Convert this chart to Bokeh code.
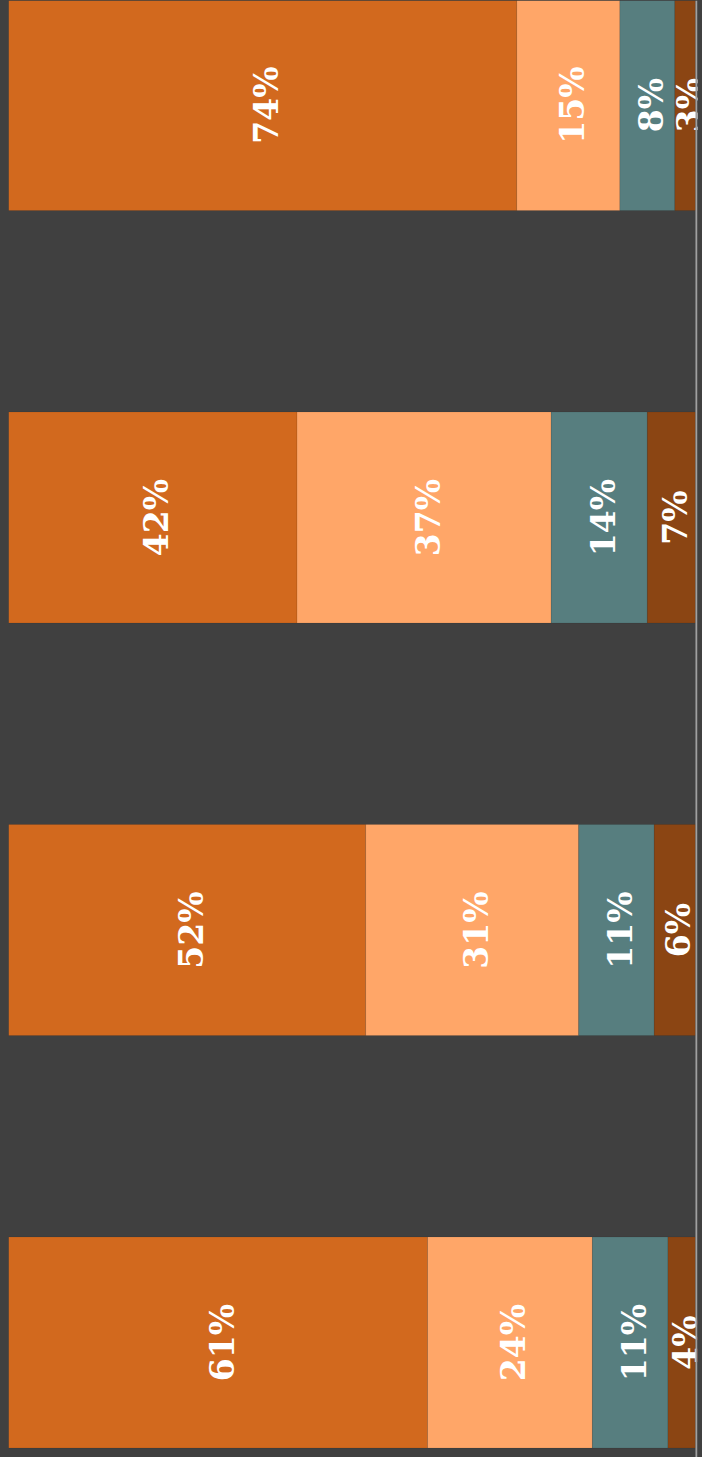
import numpy as np
from bokeh.plotting import figure
from bokeh.models import ColumnDataSource, Range1d, Span
from bokeh.core.properties import value
from bokeh.embed import file_html
from bokeh.resources import INLINE

# Data: bars listed bottom to top
bars = ["Bar 1", "Bar 2", "Bar 3", "Bar 4"]
series_names = ["s1", "s2", "s3", "s4"]
s1 = [61, 52, 42, 74]
s2 = [24, 31, 37, 15]
s3 = [11, 11, 14, 8]
s4 = [4, 6, 7, 3]
colors = ["#D2691E", "#FFA668", "#577E7F", "#8B4513"]

BG = "#404040"
ypos = list(range(len(bars)))

src = ColumnDataSource(dict(y=ypos, s1=s1, s2=s2, s3=s3, s4=s4))

p = figure(width=702, height=1457, output_backend="svg", toolbar_location=None,
           x_range=Range1d(0, 100.3), y_range=Range1d(-0.2788, 3.2533),
           min_border_left=8, min_border_right=5, min_border_top=0, min_border_bottom=0)
p.background_fill_color = BG
p.border_fill_color = BG
p.outline_line_color = None
p.xaxis.visible = False
p.yaxis.visible = False
p.xgrid.visible = False
p.ygrid.visible = False

p.hbar_stack(series_names, y="y", height=0.5115, color=colors, source=src,
             line_color="#000000", line_alpha=0.08, line_width=1)

# labels
vals = np.array([s1, s2, s3, s4], dtype=float)
lefts = np.cumsum(vals, axis=0) - vals
xs, ys, texts = [], [], []
for k in range(vals.shape[0]):
    for i in range(vals.shape[1]):
        xs.append(lefts[k, i] + vals[k, i] / 2)
        ys.append(ypos[i])
        texts.append(f"{int(vals[k, i])}%")
lab = ColumnDataSource(dict(x=xs, y=ys, t=texts))
p.text(x="x", y="y", text="t", source=lab, angle=np.pi / 2, x_offset=4,
       text_align="center", text_baseline="middle", text_color="white",
       text_font=value("DejaVu Serif"), text_font_style="bold", text_font_size="33px")

p.add_layout(Span(location=100.15, dimension="height", line_color="#A0A0A0", line_width=2))

html = file_html(p, INLINE)
html = html.replace("<body>", '<body style="background-color:#404040;">')
open("out.html", "w").write(html)
